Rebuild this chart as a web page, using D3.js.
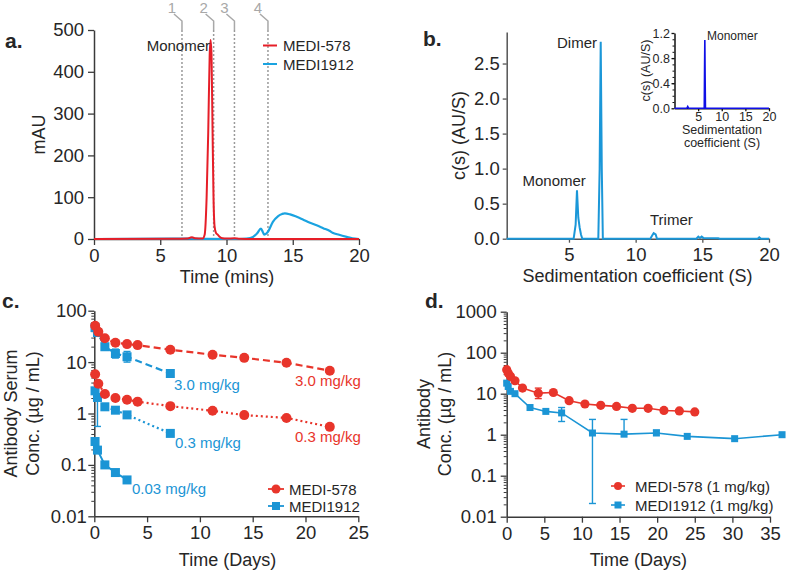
<!DOCTYPE html>
<html><head><meta charset="utf-8">
<script src="https://cdn.jsdelivr.net/npm/d3@7"></script>
<style>
body{margin:0;background:#fff}
svg{display:block;font-family:"Liberation Sans",Arial,Helvetica,sans-serif}
</style></head><body>
<svg id="chart" width="787" height="574"></svg>
<script>
// ---------------- DATA ----------------
// Panel a: SEC chromatograms [time (mins), mAU]
const secMedi578 = [[0,0],[6,0.5],[7.0,1],[7.25,3],[7.4,4],[7.6,2],[8.2,1],[8.35,10],[8.5,100],[8.62,253],[8.73,440],[8.8,476],[8.87,440],[8.95,253],[9.02,100],[9.1,30],[9.2,15],[9.35,10],[9.5,5],[9.7,2],[10,1],[10.6,1.5],[11,0.5],[12,0],[20,0]];
const secMedi1912 = [[0,0],[6,1],[8,0.5],[11,0],[11.5,1],[12,5],[12.3,13],[12.6,25],[12.75,16],[12.85,10.5],[13.1,16],[13.5,41],[13.9,55],[14.2,60],[14.4,61.5],[14.8,59],[15.3,53],[15.8,46],[16.3,39],[16.8,33],[17.3,26],[17.8,19],[18.0,15],[18.5,10],[19.07,5],[19.5,1.5],[20,0]];
const fractionTimes = [6.64, 9.03, 10.6, 13.13];
const fractionLabels = ["1", "2", "3", "4"];
const aXTicks = [0, 5, 10, 15, 20];
const aYTicks = [0, 100, 200, 300, 400, 500];

// Panel b: sedimentation c(s) [S, AU/S]
const sedMedi1912 = [[0.33,0],[5.35,0],[5.5,0.2],[5.6,0.69],[5.7,0.3],[5.8,0.16],[5.9,0.06],[6.0,0],[7.2,0],[7.3,1.0],[7.38,2.81],[7.46,1.0],[7.54,0],[11.1,0],[11.25,0.05],[11.35,0.08],[11.5,0.06],[11.6,0],[14.55,0],[14.7,0.03],[14.82,0.01],[14.95,0.03],[15.1,0.01],[16.2,0.005],[16.3,0],[19.15,0],[19.27,0.02],[19.4,0],[20,0]];
const sedInset = [[0,0],[2.6,0],[2.8,0.03],[3.0,0],[6.3,0],[6.37,0.7],[6.42,1.09],[6.48,0.5],[6.55,0],[20,0]];
const bXTicks = [5, 10, 15, 20];
const bYTicks = [0, 0.5, 1.0, 1.5, 2.0, 2.5];
const insetXTicks = [5, 10, 15, 20];
const insetYTicks = [0, 0.4, 0.8, 1.2];

// Panel c: serum PK in mice [days, µg/mL]
const cDays578 = [0.08, 0.38, 1, 2, 3.1, 4.1, 7.2, 11.2, 14.2, 18.2, 22.3];
const c578_30 = [50.8, 39, 29, 23.7, 22.4, 21.4, 17.4, 13.9, 12.1, 9.7, 6.8];
const c578_03 = [5.8, 3.8, 2.4, 2.0, 1.85, 1.7, 1.39, 1.13, 0.93, 0.82, 0.55];
const cDays1912 = [0.07, 0.3, 1, 2, 3.1, 7.2];
const c1912_30 = [47, 37.6, 19.9, 14.7, 12.7, 6.0];
const c1912_03 = [2.76, 2.05, 1.35, 1.16, 0.94, 0.41];
const c1912_003 = [0.285, 0.194, 0.1, 0.071, 0.051];
// error bars [day, low, high]
const cErr1912 = [[2, 12.0, 17.9], [3.1, 10.0, 16.1], [0.3, 0.56, 3.5], [3.1, 0.85, 1.05], [7.2, 0.36, 0.46], [2, 0.065, 0.078]];
const cXTicks = [0, 5, 10, 15, 20, 25];
const cYTicks = [0.01, 0.1, 1, 10, 100];

// Panel d: PK at 1 mg/kg [days, µg/mL]
const dDays578 = [0, 0.2, 0.5, 1.1, 2.1, 4.2, 6.2, 8.3, 10.4, 12.5, 14.6, 16.7, 18.8, 20.9, 22.95, 25.0];
const d578 = [38.5, 31.9, 26.5, 20.7, 13.7, 10.3, 10.7, 6.75, 5.6, 5.2, 4.9, 4.4, 4.4, 3.9, 3.8, 3.6];
const dDays1912 = [0, 0.2, 0.5, 1.1, 3.1, 5.2, 7.3, 11.4, 15.6, 19.9, 24.0, 30.3, 36.6];
const d1912 = [18.1, 15, 11.4, 10.0, 4.6, 3.7, 3.4, 1.1, 1.03, 1.1, 0.91, 0.8, 1.0];
const dErr578 = [[4.2, 7.6, 13.7]];
const dErr1912 = [[7.3, 2.1, 4.6], [11.4, 0.021, 2.36], [15.6, 1.03, 2.36], [19.9, 1.1, 1.3]];
const dXTicks = [0, 5, 10, 15, 20, 25, 30, 35];
const dYTicks = [0.01, 0.1, 1, 10, 100, 1000];

// ---------------- DRAWING ----------------
const svg = d3.select("#chart");
const FONT = '"Liberation Sans", Arial, Helvetica, sans-serif';
const INK = "#262626", AXC = "#3a3a3a";
const RED = "#e8352b", BLUE = "#1b95d5", GRAY = "#a8a8a8";
const TICKFS = 18.5, TITLEFS = 18, NOTEFS = 15;

svg.append("rect").attr("width", 787).attr("height", 574).attr("fill", "#fff");

function styleAxis(g, fs, col) {
  g.attr("font-family", FONT).attr("font-size", fs);
  g.select(".domain").attr("stroke", col || AXC).attr("stroke-width", 1.5);
  g.selectAll(".tick line").attr("stroke", col || AXC).attr("stroke-width", 1.3);
  g.selectAll(".tick text").attr("fill", INK);
}
function text(x, y, s, opt) {
  opt = opt || {};
  return svg.append("text").attr("x", x).attr("y", y).text(s)
    .attr("font-size", opt.fs || NOTEFS).attr("fill", opt.fill || INK)
    .attr("text-anchor", opt.anchor || "start")
    .attr("font-weight", opt.bold ? "bold" : null);
}
function vtext(x, y, s, fs) {
  return svg.append("text").attr("transform", `translate(${x},${y}) rotate(-90)`)
    .attr("text-anchor", "middle").attr("font-size", fs || TITLEFS).attr("fill", INK).text(s);
}
function logMinors(lo, hi) {
  const out = [];
  for (let e = Math.round(Math.log10(lo)); e < Math.round(Math.log10(hi)); e++)
    for (let m = 2; m <= 9; m++) out.push(m * Math.pow(10, e));
  return out;
}
const logFmt = d => d >= 1 ? String(d) : String(+d.toPrecision(1));

// ===== Panel a =====
const ax = d3.scaleLinear().domain([0, 20]).range([94, 359]);
const ay = d3.scaleLinear().domain([0, 500]).range([239, 30]);
styleAxis(svg.append("g").attr("transform", `translate(0,${ay(0)})`)
  .call(d3.axisBottom(ax).tickValues(aXTicks).tickSize(6).tickPadding(4).tickSizeOuter(0)), TICKFS);
styleAxis(svg.append("g").attr("transform", `translate(${ax(0)},0)`)
  .call(d3.axisLeft(ay).tickValues(aYTicks).tickSize(6).tickPadding(4).tickSizeOuter(0)), TICKFS);

fractionTimes.forEach((t, i) => {
  const x = ax(t);
  svg.append("path").attr("d", `M${x - 8},${14}L${x},${21}L${x},${30}`)
    .attr("fill", "none").attr("stroke", GRAY).attr("stroke-width", 1.5);
  svg.append("line").attr("x1", x).attr("x2", x).attr("y1", 30).attr("y2", ay(0))
    .attr("stroke", "#9a9a9a").attr("stroke-width", 1.5).attr("stroke-dasharray", "2,2");
  text(x - 10, 13, fractionLabels[i], {fs: NOTEFS, fill: GRAY, anchor: "middle"});
});
const aLine = d3.line().x(d => ax(d[0])).y(d => ay(d[1])).curve(d3.curveMonotoneX);
svg.append("path").attr("d", aLine(secMedi1912)).attr("fill", "none").attr("stroke", "#1aa3e0").attr("stroke-width", 2.2);
svg.append("path").attr("d", aLine(secMedi578)).attr("fill", "none").attr("stroke", "#e61e28").attr("stroke-width", 2);
text(210, 51, "Monomer", {anchor: "end"});
svg.append("line").attr("x1", 263).attr("x2", 277).attr("y1", 45.5).attr("y2", 45.5).attr("stroke", "#e61e28").attr("stroke-width", 2);
svg.append("line").attr("x1", 263).attr("x2", 277).attr("y1", 64).attr("y2", 64).attr("stroke", "#1aa3e0").attr("stroke-width", 2);
text(283, 51, "MEDI-578");
text(283, 69.5, "MEDI1912");
vtext(45, 134.5, "mAU");
text(227, 282.5, "Time (mins)", {fs: TITLEFS, anchor: "middle"});
text(5, 48, "a.", {fs: 21, bold: true});

// ===== Panel b =====
const bx = d3.scaleLinear().domain([0.33, 20]).range([506.7, 769]);
const by = d3.scaleLinear().domain([0, 2.95]).range([238.7, 32]);
styleAxis(svg.append("g").attr("transform", `translate(0,${by(0)})`)
  .call(d3.axisBottom(bx).tickValues(bXTicks).tickSize(4).tickPadding(5).tickSizeOuter(0)), TICKFS, "#555");
styleAxis(svg.append("g").attr("transform", `translate(${bx(0.33)},0)`)
  .call(d3.axisLeft(by).tickValues(bYTicks).tickFormat(d3.format(".1f")).tickSize(4).tickPadding(3).tickSizeOuter(0)), TICKFS, "#555");
const bLine = d3.line().x(d => bx(d[0])).y(d => by(d[1]));
svg.append("path").attr("d", bLine(sedMedi1912)).attr("fill", "none").attr("stroke", "#1b97d8").attr("stroke-width", 2);
text(597, 48, "Dimer", {anchor: "end"});
text(522.5, 186, "Monomer");
text(650, 225, "Trimer");
vtext(465, 135.5, "c(s) (AU/S)");
text(637.5, 282, "Sedimentation coefficient (S)", {fs: TITLEFS, anchor: "middle"});
text(423, 46, "b.", {fs: 21, bold: true});

// inset
const ix = d3.scaleLinear().domain([0, 20]).range([674.5, 769]);
const iy = d3.scaleLinear().domain([0, 1.2]).range([108.3, 33]);
styleAxis(svg.append("g").attr("transform", `translate(0,${iy(0)})`)
  .call(d3.axisBottom(ix).tickValues(insetXTicks).tickSize(3).tickPadding(1).tickSizeOuter(0)), 12.5, "#111");
styleAxis(svg.append("g").attr("transform", `translate(${ix(0)},0)`)
  .call(d3.axisLeft(iy).tickValues(insetYTicks).tickFormat(d3.format(".1f")).tickSize(3).tickPadding(1.5).tickSizeOuter(0)), 12.5, "#111");
svg.append("g").attr("transform", `translate(${ix(0)},0)`)
  .call(d3.axisLeft(iy).tickValues(d3.range(1, 12).map(v => v / 10)).tickFormat("").tickSize(2).tickSizeOuter(0))
  .call(g => { g.select(".domain").remove(); g.selectAll("line").attr("stroke", "#111"); });
const iLine = d3.line().x(d => ix(d[0])).y(d => iy(d[1]));
svg.append("path").attr("d", iLine(sedInset)).attr("fill", "none").attr("stroke", "#1010e6").attr("stroke-width", 1.6);
text(707, 40, "Monomer", {fs: 12});
vtext(650, 70.5, "c(s) (AU/S)", 12.5);
text(722, 134, "Sedimentation", {fs: 12.5, anchor: "middle"});
text(722, 146.5, "coefficient (S)", {fs: 12.5, anchor: "middle"});

// ===== Panel c =====
const cx = d3.scaleLinear().domain([0, 25]).range([94.3, 358.3]);
const cy = d3.scaleLog().domain([0.01, 100]).range([516.3, 310.7]);
styleAxis(svg.append("g").attr("transform", `translate(0,${cy(0.01)})`)
  .call(d3.axisBottom(cx).tickValues(cXTicks).tickSize(6).tickPadding(4).tickSizeOuter(0)), TICKFS);
styleAxis(svg.append("g").attr("transform", `translate(${cx(0)},0)`)
  .call(d3.axisLeft(cy).tickValues(cYTicks).tickFormat(logFmt).tickSize(6).tickPadding(1.5).tickSizeOuter(0)), TICKFS);
svg.append("g").attr("transform", `translate(${cx(0)},0)`)
  .call(d3.axisLeft(cy).tickValues(logMinors(0.01, 100)).tickFormat("").tickSize(3).tickSizeOuter(0))
  .call(g => { g.select(".domain").remove(); g.selectAll("line").attr("stroke", AXC).attr("stroke-width", 1); });

function series(xs, ys, xS, yS, color, dash, shape, size, lw) {
  const pts = ys.map((v, i) => [xs[i], v]);
  svg.append("path").attr("d", d3.line().x(d => xS(d[0])).y(d => yS(d[1]))(pts))
    .attr("fill", "none").attr("stroke", color).attr("stroke-width", lw).attr("stroke-dasharray", dash);
  pts.forEach(d => marker(xS(d[0]), yS(d[1]), color, shape, size));
}
function marker(x, y, color, shape, size) {
  if (shape === "circle") svg.append("circle").attr("cx", x).attr("cy", y).attr("r", size).attr("fill", color);
  else svg.append("rect").attr("x", x - size / 2).attr("y", y - size / 2).attr("width", size).attr("height", size).attr("fill", color);
}
function errBars(list, xS, yS, color) {
  list.forEach(([t, lo, hi]) => {
    const x = xS(t);
    svg.append("line").attr("x1", x).attr("x2", x).attr("y1", yS(lo)).attr("y2", yS(hi)).attr("stroke", color).attr("stroke-width", 1.4);
    [lo, hi].forEach(v => svg.append("line").attr("x1", x - 3.5).attr("x2", x + 3.5).attr("y1", yS(v)).attr("y2", yS(v)).attr("stroke", color).attr("stroke-width", 1.4));
  });
}
errBars(cErr1912, cx, cy, BLUE);
series(cDays1912, c1912_30, cx, cy, BLUE, "7,4", "square", 9, 2.2);
series(cDays1912, c1912_03, cx, cy, BLUE, "2,3", "square", 9, 2.2);
series(cDays1912, c1912_003, cx, cy, BLUE, null, "square", 9, 2);
series(cDays578, c578_30, cx, cy, RED, "7,4", "circle", 5, 2.2);
series(cDays578, c578_03, cx, cy, RED, "2,3", "circle", 5, 2.2);
text(174, 390, "3.0 mg/kg", {fill: BLUE});
text(295, 386, "3.0 mg/kg", {fill: RED});
text(175, 447.5, "0.3 mg/kg", {fill: BLUE});
text(295, 442, "0.3 mg/kg", {fill: RED});
text(132, 494, "0.03 mg/kg", {fill: BLUE});
svg.append("line").attr("x1", 268).attr("x2", 284).attr("y1", 489).attr("y2", 489).attr("stroke", RED).attr("stroke-width", 1.8);
marker(276, 489, RED, "circle", 4.5);
svg.append("line").attr("x1", 268).attr("x2", 284).attr("y1", 506).attr("y2", 506).attr("stroke", BLUE).attr("stroke-width", 1.8);
marker(276, 506, BLUE, "square", 8);
text(289, 494.5, "MEDI-578");
text(289, 511.5, "MEDI1912");
vtext(17, 413.5, "Antibody Serum");
vtext(39, 413.5, "Conc. (µg / mL)");
text(227.5, 566, "Time (Days)", {fs: TITLEFS, anchor: "middle"});
text(2, 308, "c.", {fs: 21, bold: true});

// ===== Panel d =====
const dx = d3.scaleLinear().domain([0, 35]).range([506.7, 770]);
const dy = d3.scaleLog().domain([0.01, 1000]).range([516.7, 311.7]);
styleAxis(svg.append("g").attr("transform", `translate(0,${dy(0.01)})`)
  .call(d3.axisBottom(dx).tickValues(dXTicks).tickSize(6).tickPadding(4).tickSizeOuter(0)), TICKFS);
styleAxis(svg.append("g").attr("transform", `translate(${dx(0)},0)`)
  .call(d3.axisLeft(dy).tickValues(dYTicks).tickFormat(logFmt).tickSize(6).tickPadding(4).tickSizeOuter(0)), TICKFS);
svg.append("g").attr("transform", `translate(${dx(0)},0)`)
  .call(d3.axisLeft(dy).tickValues(logMinors(0.01, 1000)).tickFormat("").tickSize(3).tickSizeOuter(0))
  .call(g => { g.select(".domain").remove(); g.selectAll("line").attr("stroke", AXC).attr("stroke-width", 1); });
errBars(dErr1912, dx, dy, BLUE);
series(dDays1912, d1912, dx, dy, BLUE, null, "square", 7, 1.6);
errBars(dErr578, dx, dy, RED);
series(dDays578, d578, dx, dy, RED, null, "circle", 4.6, 1.6);
svg.append("line").attr("x1", 611).attr("x2", 625).attr("y1", 486).attr("y2", 486).attr("stroke", RED).attr("stroke-width", 1.6);
marker(618, 486, RED, "circle", 4);
svg.append("line").attr("x1", 611).attr("x2", 625).attr("y1", 505).attr("y2", 505).attr("stroke", BLUE).attr("stroke-width", 1.6);
marker(618, 505, BLUE, "square", 7);
text(635, 491.5, "MEDI-578 (1 mg/kg)");
text(635, 510.5, "MEDI1912 (1 mg/kg)");
vtext(430, 414, "Antibody");
vtext(451, 414, "Conc. (µg / mL)");
text(638.3, 566, "Time (Days)", {fs: TITLEFS, anchor: "middle"});
text(425, 308, "d.", {fs: 21, bold: true});
</script>
</body></html>
